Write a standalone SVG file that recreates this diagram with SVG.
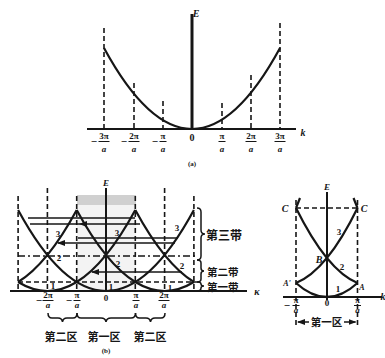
<svg xmlns="http://www.w3.org/2000/svg" width="385" height="358" viewBox="0 0 385 358">
<style>
.c{fill:none;stroke:#161616;stroke-width:2.2}
.ax{fill:none;stroke:#161616;stroke-width:2}
.d{fill:none;stroke:#161616;stroke-width:1.6;stroke-dasharray:5 3}
.dd{fill:none;stroke:#161616;stroke-width:1.3;stroke-dasharray:7 3 2 3}
.h{fill:none;stroke:#161616;stroke-width:1.5}
.t{font-family:"Liberation Serif",serif;font-weight:bold;fill:#161616;text-anchor:middle}
.i{font-style:italic}
.f{font-size:9px}
.m{font-size:11px}
.cj{font-family:"Noto Sans CJK SC","Noto Sans CJK JP",sans-serif;font-weight:bold;fill:#161616}
</style>
<defs>
<marker id="ar" viewBox="0 0 8 6" refX="7" refY="3" markerWidth="8" markerHeight="6" markerUnits="userSpaceOnUse" orient="auto-start-reverse">
<path d="M8,3 L0,0 L0,6 Z" fill="#161616"/>
</marker>
</defs>
<rect width="385" height="358" fill="#ffffff"/>

<!-- ===== (a) ===== -->
<g id="panel-a">
<line class="ax" x1="87" y1="129" x2="296" y2="129"/>
<line x1="192" y1="14" x2="192" y2="130" stroke="#161616" stroke-width="3"/>
<text class="t i" x="196" y="17" font-size="10">E</text>
<text class="t i" x="303" y="136" font-size="10">k</text>
<line class="d" x1="104" y1="28" x2="104" y2="129"/>
<line class="d" x1="134" y1="83" x2="134" y2="129"/>
<line class="d" x1="163" y1="101" x2="163" y2="129"/>
<line class="d" x1="222" y1="103" x2="222" y2="129"/>
<line class="d" x1="251" y1="75" x2="251" y2="129"/>
<line class="d" x1="280" y1="23" x2="280" y2="129"/>
<path class="c" d="M104,48 Q192,210 280,48"/>
<g class="t f">
<text class="m" x="94" y="145">−</text><text x="104" y="139">3π</text><line x1="98.5" y1="141.5" x2="109.5" y2="141.5" stroke="#161616"/><text class="i" x="104" y="152">a</text>
<text class="m" x="124" y="145">−</text><text x="134" y="139">2π</text><line x1="128.5" y1="141.5" x2="139.5" y2="141.5" stroke="#161616"/><text class="i" x="134" y="152">a</text>
<text class="m" x="155" y="145">−</text><text x="163" y="139">π</text><line x1="159.5" y1="141.5" x2="166.5" y2="141.5" stroke="#161616"/><text class="i" x="163" y="152">a</text>
<text x="222" y="139">π</text><line x1="218.5" y1="141.5" x2="225.5" y2="141.5" stroke="#161616"/><text class="i" x="222" y="152">a</text>
<text x="251" y="139">2π</text><line x1="245.5" y1="141.5" x2="256.5" y2="141.5" stroke="#161616"/><text class="i" x="251" y="152">a</text>
<text x="280" y="139">3π</text><line x1="274.5" y1="141.5" x2="285.5" y2="141.5" stroke="#161616"/><text class="i" x="280" y="152">a</text>
</g>
<text class="t" x="192" y="141" font-size="10">0</text>
<text class="t" x="192" y="166" font-size="7">(a)</text>
</g>

<!-- ===== (b) ===== -->
<g id="panel-b">
<rect x="77" y="195" width="59" height="95" fill="#d8d8d8" opacity="0.3"/>
<rect x="77" y="195" width="59" height="10" fill="#9a9a9a" opacity="0.4"/>
<line class="ax" x1="10" y1="291" x2="247" y2="291"/>
<line x1="106" y1="188" x2="106" y2="292" stroke="#161616" stroke-width="2"/>
<text class="t i" x="106" y="186" font-size="9">E</text>
<text class="t i" x="257" y="295" font-size="10">κ</text>
<line class="d" x1="18.1" y1="196" x2="18.1" y2="291"/>
<line class="d" x1="47.4" y1="188" x2="47.4" y2="291"/>
<line class="d" x1="76.7" y1="196" x2="76.7" y2="291"/>
<line class="d" x1="135.3" y1="196" x2="135.3" y2="291"/>
<line class="d" x1="164.6" y1="188" x2="164.6" y2="291"/>
<line class="d" x1="193.9" y1="196" x2="193.9" y2="291"/>
</g>
<g id="connectors">
<line class="h" x1="28" y1="218" x2="135" y2="218"/>
<line class="h" x1="80" y1="224" x2="140" y2="224" marker-start="url(#ar)"/>
<line class="h" x1="30" y1="224" x2="80" y2="224"/>
<line class="h" x1="78" y1="238" x2="178" y2="238"/>
<line class="h" x1="58" y1="243" x2="175" y2="243" marker-start="url(#ar)"/>
<line class="dd" x1="18" y1="256" x2="197" y2="256"/>
<line class="h" x1="92" y1="272" x2="182" y2="272" marker-start="url(#ar)"/>
<line class="d" x1="18" y1="282" x2="197" y2="282"/>
</g>
<g id="bands-b">
<path class="c" d="M18.1,210 Q106,372 193.9,210"/>
<path class="c" d="M18.1,282 Q76.7,318 135.3,210"/>
<path class="c" d="M193.9,282 Q135.3,318 76.7,210"/>
<path class="c" d="M18.1,282 Q47.4,264 76.7,210"/>
<path class="c" d="M193.9,282 Q164.6,264 135.3,210"/>
<g class="t" font-size="9">
<text x="58" y="237">3</text><text x="177" y="231">3</text><text x="117" y="236">3</text>
<text x="59" y="261">2</text><text x="182" y="269">2</text><text x="118" y="267">2</text>
<text x="53" y="289">1</text><text x="111" y="290">1</text><text x="170" y="291">1</text>
</g>
<g class="t f">
<text class="m" x="39" y="304">−</text><text x="48" y="298">2π</text><line x1="42.5" y1="300.5" x2="53.5" y2="300.5" stroke="#161616"/><text class="i" x="48" y="308">a</text>
<text class="m" x="69" y="304">−</text><text x="77" y="298">π</text><line x1="73.5" y1="300.5" x2="80.5" y2="300.5" stroke="#161616"/><text class="i" x="77" y="308">a</text>
<text x="136" y="298">π</text><line x1="132.5" y1="300.5" x2="139.5" y2="300.5" stroke="#161616"/><text class="i" x="136" y="308">a</text>
<text x="164" y="298">2π</text><line x1="158.5" y1="300.5" x2="169.5" y2="300.5" stroke="#161616"/><text class="i" x="164" y="308">a</text>
</g>
<text class="t" x="106" y="301" font-size="9">0</text>
<path class="h" d="M48,313 Q48,318 52,318 L58,318 Q62,318 62.5,322 Q63,318 67,318 L73,318 Q77,318 77,313"/>
<path class="h" d="M77,313 Q77,318 81,318 L101,318 Q105.5,318 106,322 Q106.5,318 111,318 L131,318 Q135.5,318 135.5,313"/>
<path class="h" d="M135.5,313 Q135.5,318 139.5,318 L146,318 Q150,318 150.5,322 Q151,318 155,318 L161,318 Q165,318 165,313"/>
<text class="cj" x="61" y="341" font-size="11" text-anchor="middle">第二区</text>
<text class="cj" x="104" y="341" font-size="11" text-anchor="middle">第一区</text>
<text class="cj" x="150" y="341" font-size="11" text-anchor="middle">第二区</text>
<text class="t" x="106" y="353" font-size="7">(b)</text>
<path class="h" d="M197,208 Q201,208 201,212 L201,230 Q201,234 205,234 Q201,234 201,238 L201,256 Q201,260 197,260"/>
<path class="h" d="M197,260 Q201,260 201,263 L201,268 Q201,271 204,271 Q201,271 201,274 L201,279 Q201,282 197,282"/>
<path class="h" d="M197,282 Q201,282 201,284 Q201,286 204,286 Q201,286 201,288 Q201,291 197,291"/>
<text class="cj" x="206" y="240" font-size="12">第三带</text>
<text class="cj" x="207" y="276" font-size="10.5">第二带</text>
<text class="cj" x="207" y="291" font-size="10.5">第一带</text>
</g>

<!-- ===== (c) ===== -->
<g id="panel-c">
<line class="ax" x1="283" y1="297" x2="382" y2="297"/>
<text class="t i" x="383" y="300" font-size="10">k</text>
<line x1="327" y1="192" x2="327" y2="300" stroke="#161616" stroke-width="2"/>
<text class="t i" x="327" y="190" font-size="9">E</text>
<line class="d" x1="296" y1="200" x2="296" y2="328"/>
<line class="d" x1="357.5" y1="200" x2="357.5" y2="328"/>
<line class="d" x1="296" y1="208" x2="357.5" y2="208"/>
<path class="c" d="M296,283 Q327,270.5 357.5,208"/>
<path class="c" d="M357.5,283 Q327,270.5 296,208"/>
<path class="c" d="M296,283 Q327,311 357.5,283"/>
<path class="c" d="M296,208 Q298,203 300,198"/>
<path class="c" d="M357.5,208 Q355.5,203 353.5,198"/>
<g class="t i" font-size="10">
<text x="285" y="212">C</text><text x="364" y="212">C</text>
<text x="319" y="263">B</text>
<text x="287" y="286" font-size="8">A'</text>
<text x="362" y="290" font-size="8">A</text>
</g>
<g class="t" font-size="9">
<text x="339" y="235">3</text><text x="342" y="270">2</text><text x="338" y="292">1</text>
</g>
<g class="t f">
<text class="m" x="287" y="309">−</text><text x="296" y="303">π</text><line x1="292.5" y1="305.5" x2="299.5" y2="305.5" stroke="#161616"/><text class="i" x="296" y="313">a</text>
<text x="357.5" y="303">π</text><line x1="354" y1="305.5" x2="361" y2="305.5" stroke="#161616"/><text class="i" x="357.5" y="313">a</text>
</g>
<text class="t" x="327" y="306" font-size="9">0</text>
<line class="h" x1="298" y1="322" x2="309" y2="322" marker-start="url(#ar)"/>
<line class="h" x1="344" y1="322" x2="355.5" y2="322" marker-end="url(#ar)"/>
<text class="cj" x="326.5" y="326" font-size="10.5" text-anchor="middle">第一区</text>
</g>
</svg>
